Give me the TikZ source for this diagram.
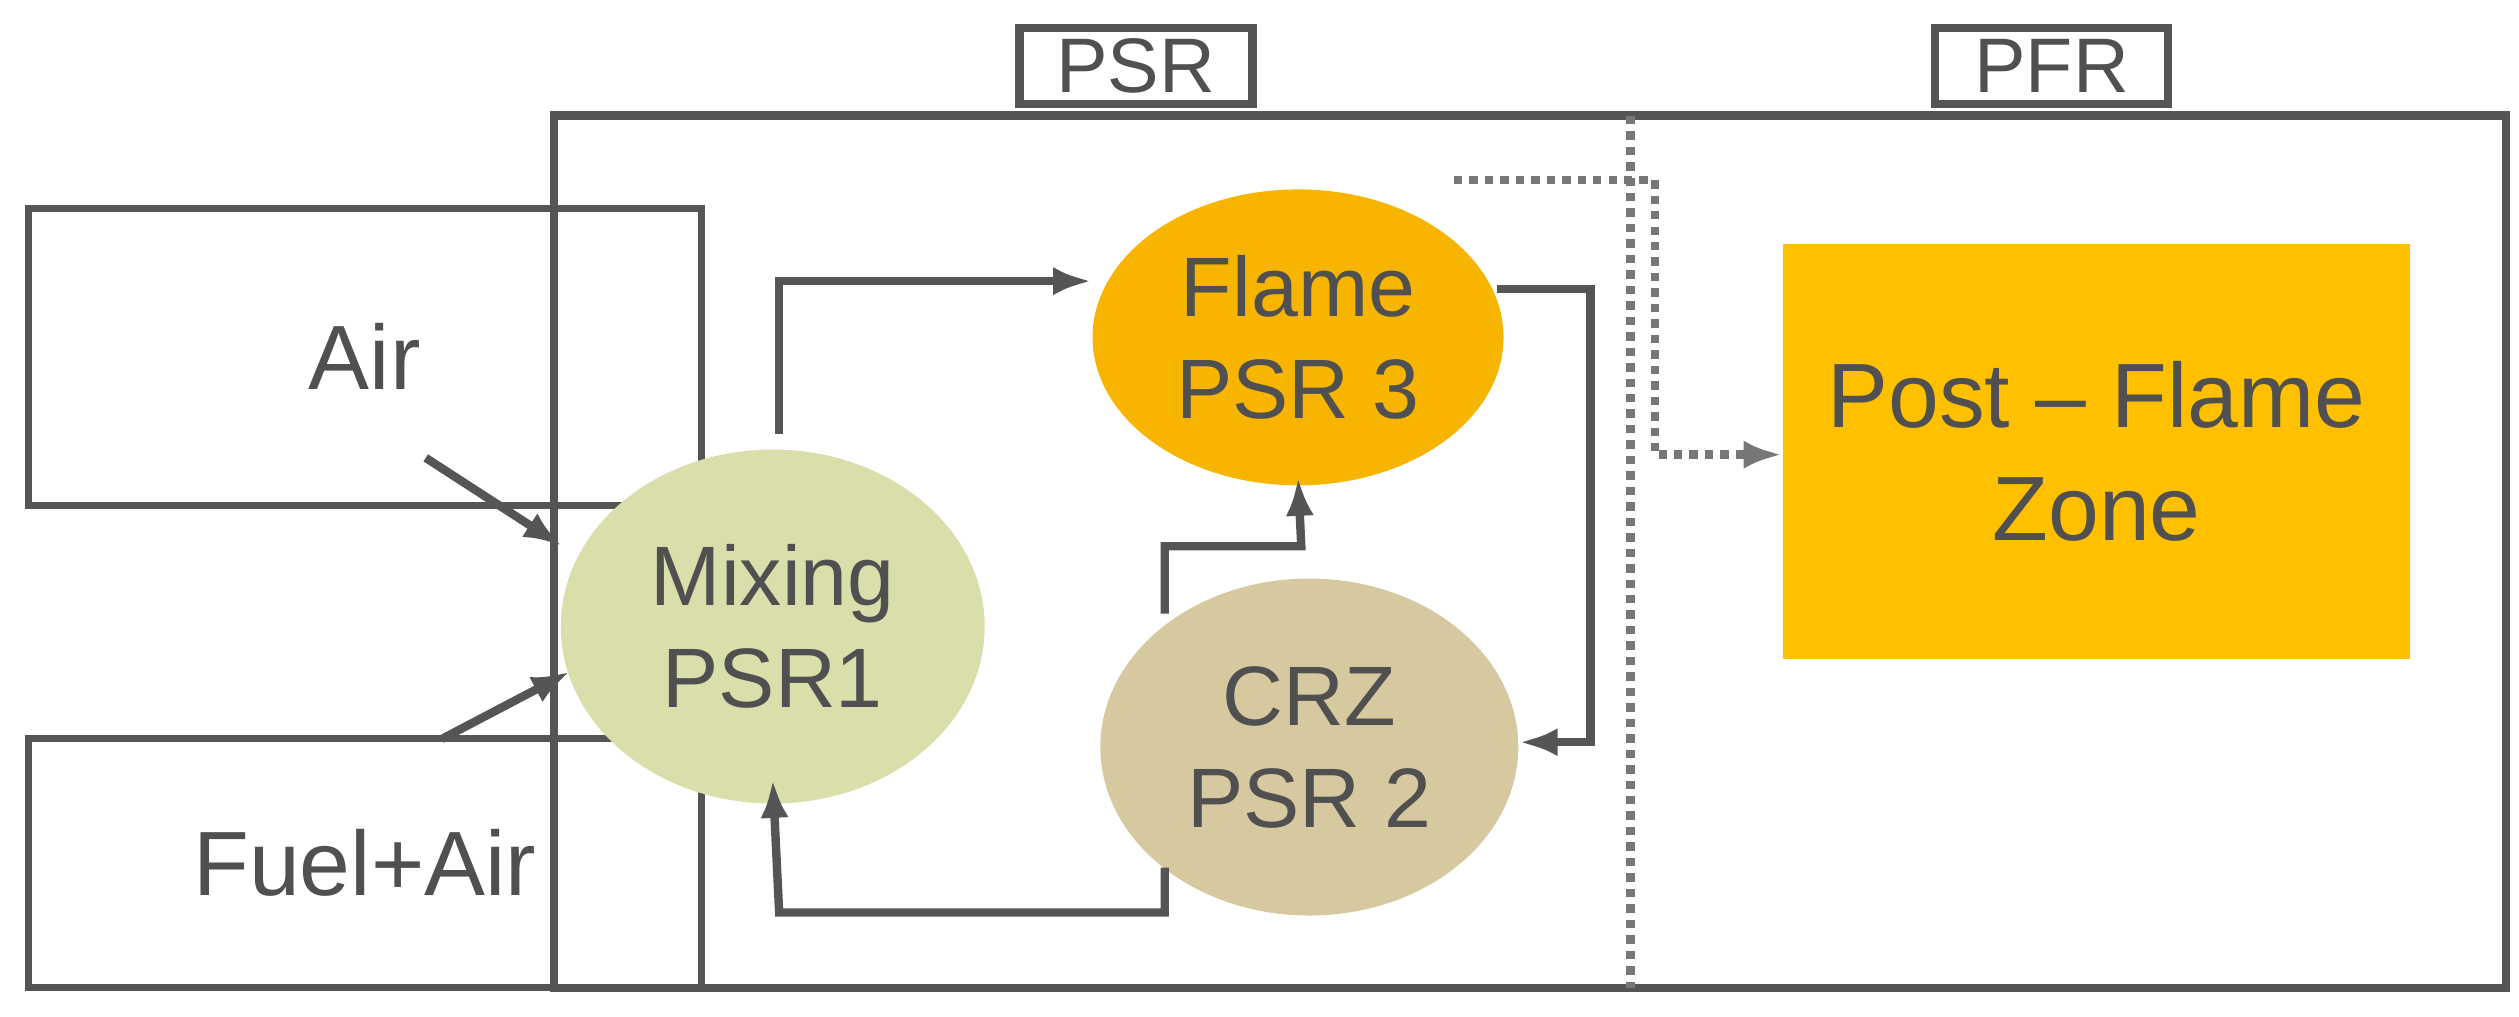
\documentclass[tikz,border=0pt]{standalone}
\usepackage{fontspec}
\setmainfont{Liberation Sans}
\usetikzlibrary{arrows.meta,shapes.geometric}
\definecolor{txt}{HTML}{505050}
\definecolor{lnc}{HTML}{555555}
\definecolor{flamec}{HTML}{F7B500}
\begin{document}
\begin{tikzpicture}[x=0.016065cm,y=-0.016065cm,
  box/.style={draw=lnc,line width=2pt,minimum width=6.73cm,inner sep=0},
  lbl/.style={draw=lnc,line width=2.4pt,minimum width=2.33cm,minimum height=0.76cm,inner sep=0,font=\fontsize{22pt}{26pt}\selectfont,text=txt},
  ell/.style={ellipse,align=center,text=txt,font=\fontsize{24pt}{29pt}\selectfont,inner sep=0},
  con/.style={draw=lnc,line width=2.4pt,-{Latex[length=11pt,width=8pt]}},
  dot/.style={draw=lnc!80,line width=2.4pt,dotted,-{Latex[length=11pt,width=8pt]}},
  every node/.style={text=txt}]
\useasboundingbox (0,0) rectangle (1568,633);
\node[box,minimum height=2.97cm,font=\fontsize{26pt}{30pt}\selectfont] (air) at (227,222) {Air};
\node[box,minimum height=2.49cm,font=\fontsize{26pt}{30pt}\selectfont] (fuel) at (227,537) {Fuel+Air};
\draw[lnc,line width=2.4pt] (345,72) rectangle (1560,615);
\draw[lnc!80,line width=2.4pt,dotted] (1015,72) -- (1015,615);
\node[lbl] (psr) at (707,41) {PSR};
\node[lbl] (pfr) at (1277,41) {PFR};
\node[ell,fill=flamec,minimum width=4.11cm,minimum height=2.96cm] (flame) at (808,210) {Flame\\PSR 3};
\node[ell,fill={rgb,255:red,217;green,222;blue,171},minimum width=4.24cm,minimum height=3.54cm] (mix) at (481,390) {Mixing\\PSR1};
\node[ell,fill={rgb,255:red,214;green,201;blue,160},minimum width=4.18cm,minimum height=3.37cm] (crz) at (815,465) {CRZ\\PSR 2};
\node[fill={rgb,255:red,255;green,192;blue,0},minimum width=6.27cm,minimum height=4.15cm,align=center,font=\fontsize{26pt}{32pt}\selectfont] (post) at (1305,281) {Post -- Flame\\Zone};
\coordinate (a1) at (265,285);
\coordinate (f1) at (275,460);
\draw[con] (a1) -- (350,340);
\draw[con] (f1) -- (355,418);
\draw[con] (485,270) -- (485,175) -- (flame.west |- 0,175);
\draw[con] (932,180) -- (990,180) -- (990,462) -- (crz.east |- 0,462);
\draw[con] (725,382) -- (725,340) -- (810,340) -- (flame.south |- 0,297);
\draw[con] (725,540) -- (725,568) -- (485,568) -- (mix.south |- 0,485);
\draw[dot] (905,112) -- (1030,112) -- (1030,283) -- (post.west |- 0,283);
\end{tikzpicture}
\end{document}
